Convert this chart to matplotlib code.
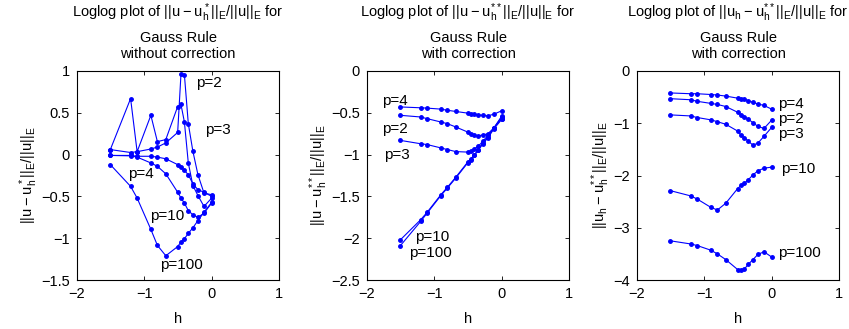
"""Gauss Rule の誤差 (loglog) を 3 枚並べて描く。"""

import matplotlib

matplotlib.use("Agg")
import matplotlib.pyplot as plt

matplotlib.rcParams["font.family"] = ["Liberation Sans", "DejaVu Sans"]
matplotlib.rcParams["mathtext.default"] = "regular"
matplotlib.rcParams["font.size"] = 10

# log10(h)
h = [-1.505, -1.204, -1.107, -0.903, -0.806, -0.681, -0.505,
     -0.456, -0.405, -0.347, -0.279, -0.204, -0.114, 0.0]

# 左: without correction
nc_p2 = [0.06, 0.025, 0.035, 0.067, 0.09, 0.14, 0.265,
         0.96, 0.955, 0.37, 0.04, -0.24, -0.46, -0.48]
nc_p3 = [0.06, 0.67, 0.035, 0.47, 0.155, 0.18, 0.575,
         0.60, 0.39, -0.10, -0.37, -0.49, -0.62, -0.52]
nc_p4 = [-0.01, -0.01, -0.02, -0.02, -0.03, -0.05, -0.12,
         -0.15, -0.19, -0.24, -0.35, -0.42, -0.45, -0.50]
nc_p10 = [-0.01, -0.015, -0.03, -0.10, -0.14, -0.23, -0.45,
          -0.52, -0.58, -0.67, -0.72, -0.75, -0.70, -0.58]
nc_p100 = [-0.12, -0.38, -0.52, -0.895, -1.086, -1.21, -1.10,
           -1.046, -1.006, -0.943, -0.875, -0.79, -0.69, -0.57]

# 中: with correction
wc_p4 = [-0.43, -0.44, -0.444, -0.456, -0.47, -0.484, -0.504,
         -0.512, -0.516, -0.524, -0.532, -0.536, -0.516, -0.476]
wc_p2 = [-0.53, -0.55, -0.57, -0.61, -0.63, -0.67, -0.73,
         -0.75, -0.766, -0.774, -0.766, -0.75, -0.68, -0.55]
wc_p3 = [-0.83, -0.87, -0.88, -0.92, -0.94, -0.964, -0.97,
         -0.96, -0.93, -0.90, -0.84, -0.77, -0.68, -0.54]
wc_p10 = [-2.02, -1.78, -1.69, -1.48, -1.39, -1.27, -1.09,
          -1.05, -1.0, -0.94, -0.86, -0.79, -0.68, -0.57]
wc_p100 = [-2.09, -1.80, -1.70, -1.49, -1.40, -1.28, -1.10,
           -1.06, -1.01, -0.95, -0.87, -0.80, -0.69, -0.58]

# 右: ||u_h - u_h**||
dd_p4 = [-0.42, -0.435, -0.435, -0.45, -0.46, -0.48, -0.52,
         -0.53, -0.545, -0.565, -0.60, -0.63, -0.66, -0.73]
dd_p2 = [-0.53, -0.55, -0.58, -0.62, -0.64, -0.68, -0.79,
         -0.84, -0.88, -0.92, -0.99, -1.06, -1.10, -0.94]
dd_p3 = [-0.84, -0.86, -0.89, -0.935, -0.97, -1.02, -1.15,
         -1.23, -1.28, -1.34, -1.42, -1.38, -1.25, -1.08]
dd_p10 = [-2.29, -2.39, -2.45, -2.61, -2.66, -2.53, -2.25,
          -2.19, -2.15, -2.08, -1.99, -1.91, -1.86, -1.84]
dd_p100 = [-3.25, -3.31, -3.34, -3.43, -3.50, -3.61, -3.80,
           -3.81, -3.79, -3.70, -3.61, -3.51, -3.46, -3.56]

panels = [
    dict(
        series=[nc_p2, nc_p3, nc_p4, nc_p10, nc_p100],
        labels=[("p=2", -0.23, 0.86), ("p=3", -0.10, 0.30),
                ("p=4", -1.24, -0.23), ("p=10", -0.91, -0.73),
                ("p=100", -0.76, -1.32)],
        ylim=(-1.5, 1), yticks=[-1.5, -1, -0.5, 0, 0.5, 1],
        title=["Loglog plot of $||u-u_h^*||_E/||u||_E$ for",
               "Gauss Rule", "without correction"],
        ylabel="$||u-u_h^*||_E/||u||_E$",
        left=77,
    ),
    dict(
        series=[wc_p4, wc_p2, wc_p3, wc_p10, wc_p100],
        labels=[("p=4", -1.77, -0.36), ("p=2", -1.78, -0.69),
                ("p=3", -1.75, -1.0), ("p=10", -1.29, -1.98),
                ("p=100", -1.37, -2.18)],
        ylim=(-2.5, 0), yticks=[-2.5, -2, -1.5, -1, -0.5, 0],
        title=["Loglog plot of $||u-u_h^{**}||_E/||u||_E$ for",
               "Gauss Rule", "with correction"],
        ylabel="$||u-u_h^{**}||_E/||u||_E$",
        left=367,
    ),
    dict(
        series=[dd_p4, dd_p2, dd_p3, dd_p10, dd_p100],
        labels=[("p=4", 0.10, -0.64), ("p=2", 0.10, -0.91),
                ("p=3", 0.10, -1.20), ("p=10", 0.135, -1.87),
                ("p=100", 0.10, -3.49)],
        ylim=(-4, 0), yticks=[-4, -3, -2, -1, 0],
        title=["Loglog plot of $||u_h-u_h^{**}||_E/||u||_E$ for",
               "Gauss Rule", "with correction"],
        ylabel="$||u_h-u_h^{**}||_E/||u||_E$",
        left=637,
    ),
]

W, H = 849, 329
AX_TOP, AX_BOT = 71, 280
# タイトル各行のベースライン (px, 上から)
TITLE_BASE = [17.5, 41.5, 58.0]

fig = plt.figure(figsize=(W / 100, H / 100), dpi=100)

for pnl in panels:
    ax = fig.add_axes([pnl["left"] / W, 1 - AX_BOT / H, 202 / W,
                       (AX_BOT - AX_TOP) / H])
    for ys in pnl["series"]:
        ax.plot(h, ys, color="blue", lw=0.8, marker=".", ms=5)
    for txt, tx, ty in pnl["labels"]:
        ax.text(tx, ty, txt, ha="left", va="center", fontsize=11)

    ax.set_xlim(-2, 1)
    ax.set_xticks([-2, -1, 0, 1])
    ax.set_ylim(*pnl["ylim"])
    ax.set_yticks(pnl["yticks"])
    ax.set_yticklabels([f"{t:g}".replace("-", "\u2212") for t in pnl["yticks"]])
    ax.tick_params(direction="in", top=True, right=True, length=3, width=0.6,
                   labelsize=10.5, pad=5)
    for sp in ax.spines.values():
        sp.set_linewidth(0.8)

    # 3 行タイトルは行ごとに置く (mathtext の行で間隔が崩れるため)
    for line, base in zip(pnl["title"], TITLE_BASE):
        ax.text(0.5, (AX_BOT - base) / (AX_BOT - AX_TOP), line,
                transform=ax.transAxes, ha="center", va="baseline",
                fontsize=10.5)
    ax.set_ylabel(pnl["ylabel"], fontsize=10.5, labelpad=1)
    ax.set_xlabel("h", fontsize=10.5, labelpad=8)

fig.savefig("out.png", dpi=100)
plt.close(fig)
